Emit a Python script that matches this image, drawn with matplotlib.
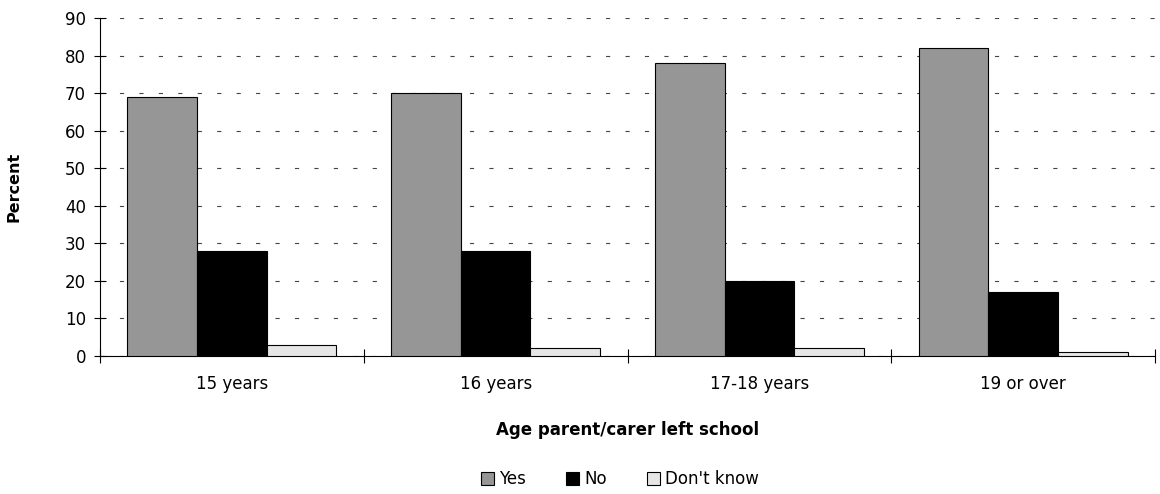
import matplotlib
matplotlib.use("Agg")
import matplotlib.pyplot as plt
import numpy as np
from matplotlib.patches import Patch

categories = ["15 years", "16 years", "17-18 years", "19 or over"]
series_names = ["Yes", "No", "Don't know"]
yes_vals = [69, 70, 78, 82]
no_vals = [28, 28, 20, 17]
dk_vals = [3, 2, 2, 1]
colors = ["#969696", "#000000", "#e6e6e6"]

plt.rcParams["font.family"] = ["DejaVu Sans"]
plt.rcParams["font.size"] = 12

fig = plt.figure(figsize=(11.6, 4.94), dpi=100)
ax = fig.add_axes([100 / 1160, 1 - 356 / 494, 1055 / 1160, 338 / 494])

x = np.arange(len(categories)) + 0.5
w = 0.264
for i, (vals, c) in enumerate(zip([yes_vals, no_vals, dk_vals], colors)):
    ax.bar(x + (i - 1) * w, vals, width=w, color=c, edgecolor="#000000",
           linewidth=0.8, zorder=3, label=series_names[i])

ax.set_xlim(0, len(categories))
ax.set_ylim(0, 90)
ax.set_yticks(np.arange(0, 91, 10))
ax.set_xticks(np.arange(0, len(categories) + 1))
ax.set_xticklabels([])
ax.set_xticks(x, minor=True)
ax.set_xticklabels(categories, minor=True)
ax.tick_params(axis="x", which="minor", length=0, pad=14)
ax.tick_params(axis="x", which="major", direction="inout", length=10, width=0.8)
ax.tick_params(axis="y", direction="inout", length=8, width=0.8, pad=6)

ax.yaxis.grid(True, linestyle=(0, (3.75, 13.75)), color="#444444", linewidth=0.8, zorder=0)
for s in ["top", "right"]:
    ax.spines[s].set_visible(False)
for s in ["left", "bottom"]:
    ax.spines[s].set_linewidth(0.8)

ax.set_ylabel("Percent", fontweight="bold", fontsize=11.5, labelpad=31)
ax.set_xlabel("Age parent/carer left school", fontweight="bold", fontsize=12, labelpad=20)

handles = [Patch(facecolor=c, edgecolor="#000000", linewidth=0.8) for c in colors]
fig.legend(handles, series_names, loc="center", bbox_to_anchor=(620 / 1160, 1 - 479 / 494),
           ncol=3, frameon=False, handlelength=0.8, handleheight=0.8,
           handletextpad=0.3, columnspacing=2.4, borderpad=0)

fig.savefig("out.png", dpi=100)
